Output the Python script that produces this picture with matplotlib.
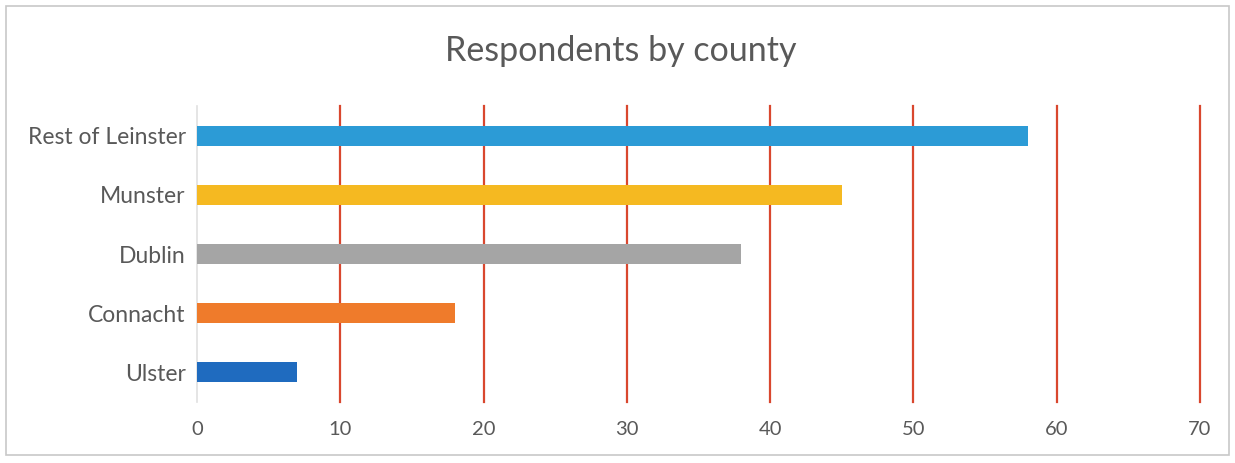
import matplotlib.pyplot as plt
from matplotlib.patches import Rectangle

# Data
regions = ['Ulster', 'Connacht', 'Dublin', 'Munster', 'Rest of Leinster']
respondents = [7, 18, 38, 45, 58]
bar_colors = ['#1f6bbf', '#ef7b2b', '#a5a5a5', '#f5b921', '#2c9bd6']
ticks = [0, 10, 20, 30, 40, 50, 60, 70]

plt.rcParams['font.family'] = ['Lato', 'DejaVu Sans']
text_color = '#595959'

fig = plt.figure(figsize=(12.35, 4.63), dpi=100)
ax = fig.add_axes([0.1595, 0.1317, 0.812, 0.6393])

ax.barh(regions, respondents, height=0.34, color=bar_colors, zorder=3)

ax.set_xlim(0, 70)
ax.set_ylim(-0.5, len(regions) - 0.5)
ax.set_xticks(ticks)

# red vertical gridlines (not at zero)
for t in ticks[1:]:
    ax.axvline(t, color='#d9472e', linewidth=1.6, zorder=1, clip_on=False)

for s in ['top', 'right', 'bottom']:
    ax.spines[s].set_visible(False)
ax.spines['left'].set_color('#e0e0e0')
ax.spines['left'].set_linewidth(1.2)

ax.tick_params(axis='both', length=0, labelcolor=text_color)
ax.tick_params(axis='x', pad=14, labelsize=14.5)
ax.tick_params(axis='y', pad=8, labelsize=16.5)

fig.text(0.503, 0.89, 'Respondents by county', ha='center', va='center',
         fontsize=24.5, color=text_color)

# outer chart border
fig.patches.append(Rectangle((0.005, 0.017), 0.99, 0.97, transform=fig.transFigure,
                             fill=False, edgecolor='#c8c8c8', linewidth=1.2))

fig.savefig('out.png', dpi=100)
